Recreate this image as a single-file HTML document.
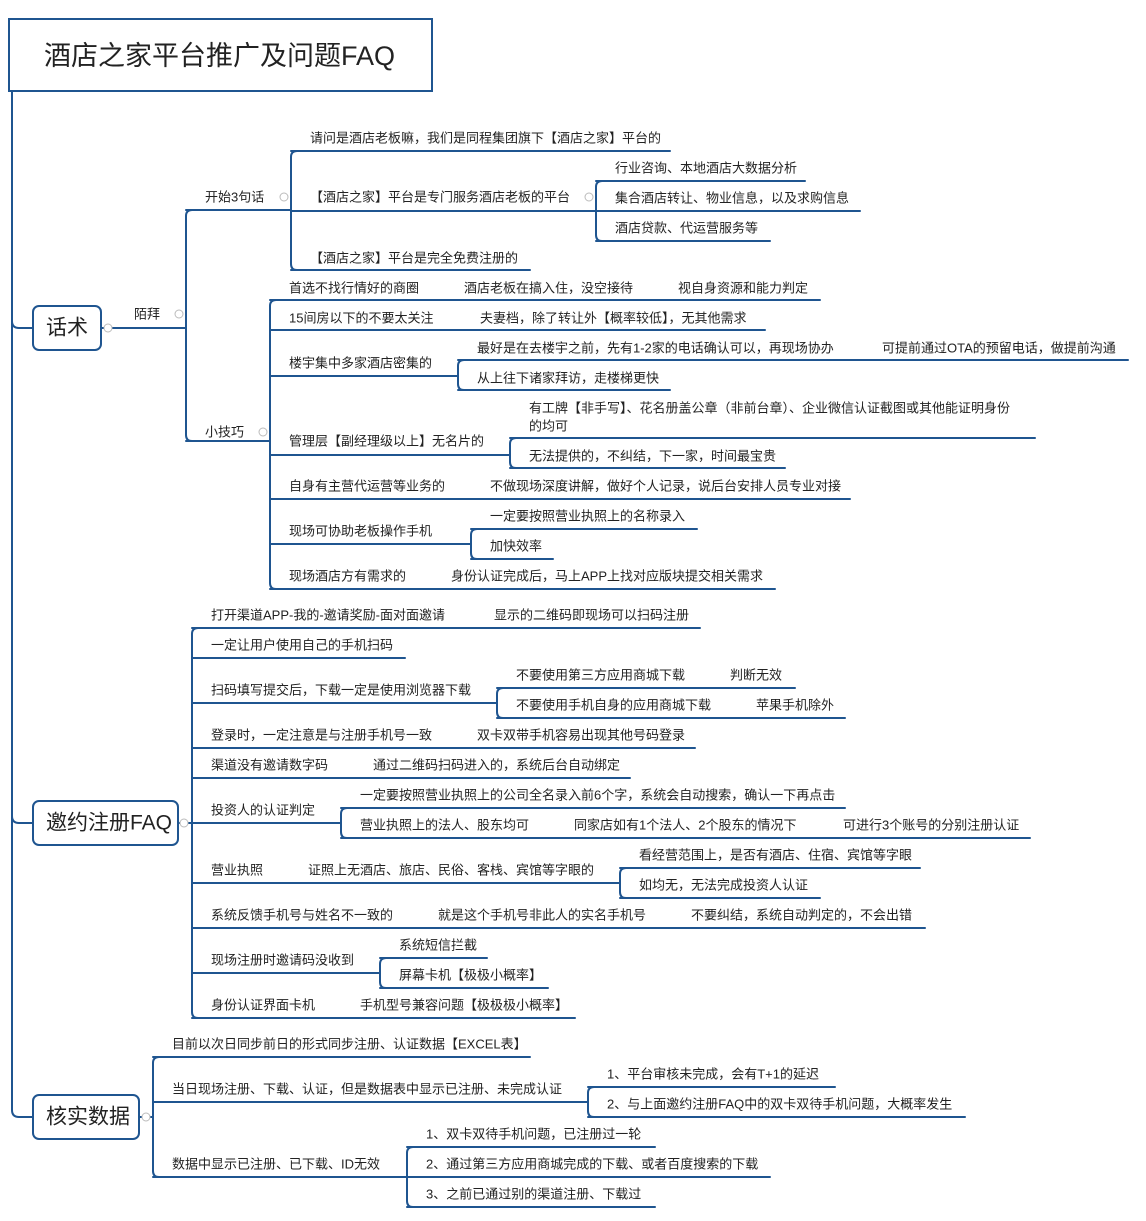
<!DOCTYPE html>
<html><head><meta charset="utf-8"><style>
html,body{margin:0;padding:0;background:#fff;}
svg{display:block;}
text{font-family:"Liberation Sans","Noto Sans CJK SC",sans-serif;font-size:13px;fill:#222;dominant-baseline:central;}
.b{font-size:21px;}
.t{font-size:27px;}
.c{fill:#fff;stroke:#bbb;stroke-width:1;}
</style></head><body>
<svg width="1146" height="1221" viewBox="0 0 1146 1221" xmlns="http://www.w3.org/2000/svg">
<g fill="none" stroke="#1f5590" stroke-width="2" stroke-linecap="round">
<!-- title -->
<rect x="9" y="19" width="423" height="72" stroke-width="2"/>
<!-- spine -->
<path d="M12 91 L12 1110 Q12 1117 19 1117 L33 1117"/>
<path d="M12 321 Q12 328 19 328 L33 328"/>
<path d="M12 816 Q12 823 19 823 L33 823"/>
<rect x="33" y="306" width="68" height="44" rx="6"/>
<rect x="33" y="801" width="145" height="44" rx="6"/>
<rect x="33" y="1095" width="106" height="44" rx="6"/>
<!-- 话术 -->
<path d="M101 328 L186 328"/>
<path d="M192 210 Q186 210 186 216 L186 435 Q186 441 192 441"/>
<path d="M186 210 L291 210"/><path d="M186 441 L270 441"/>
<path d="M297 151 Q291 151 291 157 L291 264 Q291 270 297 270"/>
<path d="M291 151 L670 151"/><path d="M291 211 L596 211"/><path d="M291 270 L530 270"/>
<path d="M602 181 Q596 181 596 187 L596 235 Q596 241 602 241"/>
<path d="M596 181 L805 181"/><path d="M596 211 L860 211"/><path d="M596 241 L770 241"/>
<path d="M276 300 Q270 300 270 306 L270 583 Q270 589 276 589"/>
<path d="M270 300 L820 300"/>
<path d="M270 330 L765 330"/>
<path d="M270 376 L458 376"/>
<path d="M464 360 Q458 360 458 366 L458 384 Q458 390 464 390"/>
<path d="M458 360 L1128 360"/><path d="M458 390 L670 390"/>
<path d="M270 455 L510 455"/>
<path d="M516 438 Q510 438 510 444 L510 462 Q510 468 516 468"/>
<path d="M510 438 L1035 438"/><path d="M510 468 L785 468"/>
<path d="M270 499 L850 499"/>
<path d="M270 544 L471 544"/>
<path d="M477 529 Q471 529 471 535 L471 553 Q471 559 477 559"/>
<path d="M471 529 L697 529"/><path d="M471 559 L553 559"/>
<path d="M270 589 L775 589"/>
<!-- 邀约 -->
<path d="M178 823 L192 823"/>
<path d="M198 628 Q192 628 192 634 L192 1012 Q192 1018 198 1018"/>
<path d="M192 628 L700 628"/>
<path d="M192 658 L405 658"/>
<path d="M192 703 L497 703"/>
<path d="M503 688 Q497 688 497 694 L497 712 Q497 718 503 718"/>
<path d="M497 688 L795 688"/><path d="M497 718 L845 718"/>
<path d="M192 748 L695 748"/>
<path d="M192 778 L630 778"/>
<path d="M192 823 L341 823"/>
<path d="M347 808 Q341 808 341 814 L341 832 Q341 838 347 838"/>
<path d="M341 808 L845 808"/><path d="M341 838 L1030 838"/>
<path d="M192 883 L620 883"/>
<path d="M626 868 Q620 868 620 874 L620 892 Q620 898 626 898"/>
<path d="M620 868 L920 868"/><path d="M620 898 L820 898"/>
<path d="M192 928 L925 928"/>
<path d="M192 973 L380 973"/>
<path d="M386 958 Q380 958 380 964 L380 982 Q380 988 386 988"/>
<path d="M380 958 L487 958"/><path d="M380 988 L548 988"/>
<path d="M192 1018 L575 1018"/>
<!-- 核实 -->
<path d="M139 1117 L153 1117"/>
<path d="M159 1057 Q153 1057 153 1063 L153 1171 Q153 1177 159 1177"/>
<path d="M153 1057 L530 1057"/>
<path d="M153 1102 L588 1102"/>
<path d="M594 1087 Q588 1087 588 1093 L588 1111 Q588 1117 594 1117"/>
<path d="M588 1087 L835 1087"/><path d="M588 1117 L965 1117"/>
<path d="M153 1177 L407 1177"/>
<path d="M413 1147 Q407 1147 407 1153 L407 1201 Q407 1207 413 1207"/>
<path d="M407 1147 L655 1147"/><path d="M407 1177 L770 1177"/><path d="M407 1207 L655 1207"/>
</g>
<g>
<circle class="c" cx="108" cy="328" r="4"/><circle class="c" cx="179" cy="314" r="4"/>
<circle class="c" cx="284" cy="197" r="4"/><circle class="c" cx="589" cy="197" r="4"/>
<circle class="c" cx="263" cy="432" r="4"/><circle class="c" cx="184" cy="823" r="4"/>
<circle class="c" cx="146" cy="1117" r="4"/>
</g>
<text class="t" x="44" y="56">酒店之家平台推广及问题FAQ</text>
<text class="b" x="46" y="328">话术</text>
<text class="b" x="46" y="823">邀约注册FAQ</text>
<text class="b" x="46" y="1117">核实数据</text>
<text x="134" y="314">陌拜</text>
<text x="205" y="197">开始3句话</text>
<text x="310" y="138">请问是酒店老板嘛，我们是同程集团旗下【酒店之家】平台的</text>
<text x="310" y="197">【酒店之家】平台是专门服务酒店老板的平台</text>
<text x="615" y="168">行业咨询、本地酒店大数据分析</text>
<text x="615" y="198">集合酒店转让、物业信息，以及求购信息</text>
<text x="615" y="228">酒店贷款、代运营服务等</text>
<text x="310" y="258">【酒店之家】平台是完全免费注册的</text>
<text x="205" y="432">小技巧</text>
<text x="289" y="288">首选不找行情好的商圈</text>
<text x="464" y="288">酒店老板在搞入住，没空接待</text>
<text x="678" y="288">视自身资源和能力判定</text>
<text x="289" y="318">15间房以下的不要太关注</text>
<text x="480" y="318">夫妻档，除了转让外【概率较低】，无其他需求</text>
<text x="289" y="363">楼宇集中多家酒店密集的</text>
<text x="477" y="348">最好是在去楼宇之前，先有1-2家的电话确认可以，再现场协办</text>
<text x="882" y="348">可提前通过OTA的预留电话，做提前沟通</text>
<text x="477" y="378">从上往下诸家拜访，走楼梯更快</text>
<text x="289" y="441">管理层【副经理级以上】无名片的</text>
<text x="529" y="408">有工牌【非手写】、花名册盖公章（非前台章）、企业微信认证截图或其他能证明身份</text>
<text x="529" y="426">的均可</text>
<text x="529" y="456">无法提供的，不纠结，下一家，时间最宝贵</text>
<text x="289" y="486">自身有主营代运营等业务的</text>
<text x="490" y="486">不做现场深度讲解，做好个人记录，说后台安排人员专业对接</text>
<text x="289" y="531">现场可协助老板操作手机</text>
<text x="490" y="516">一定要按照营业执照上的名称录入</text>
<text x="490" y="546">加快效率</text>
<text x="289" y="576">现场酒店方有需求的</text>
<text x="451" y="576">身份认证完成后，马上APP上找对应版块提交相关需求</text>
<text x="211" y="615">打开渠道APP-我的-邀请奖励-面对面邀请</text>
<text x="494" y="615">显示的二维码即现场可以扫码注册</text>
<text x="211" y="645">一定让用户使用自己的手机扫码</text>
<text x="211" y="690">扫码填写提交后，下载一定是使用浏览器下载</text>
<text x="516" y="675">不要使用第三方应用商城下载</text>
<text x="730" y="675">判断无效</text>
<text x="516" y="705">不要使用手机自身的应用商城下载</text>
<text x="756" y="705">苹果手机除外</text>
<text x="211" y="735">登录时，一定注意是与注册手机号一致</text>
<text x="477" y="735">双卡双带手机容易出现其他号码登录</text>
<text x="211" y="765">渠道没有邀请数字码</text>
<text x="373" y="765">通过二维码扫码进入的，系统后台自动绑定</text>
<text x="211" y="810">投资人的认证判定</text>
<text x="360" y="795">一定要按照营业执照上的公司全名录入前6个字，系统会自动搜索，确认一下再点击</text>
<text x="360" y="825">营业执照上的法人、股东均可</text>
<text x="574" y="825">同家店如有1个法人、2个股东的情况下</text>
<text x="843" y="825">可进行3个账号的分别注册认证</text>
<text x="211" y="870">营业执照</text>
<text x="308" y="870">证照上无酒店、旅店、民俗、客栈、宾馆等字眼的</text>
<text x="639" y="855">看经营范围上，是否有酒店、住宿、宾馆等字眼</text>
<text x="639" y="885">如均无，无法完成投资人认证</text>
<text x="211" y="915">系统反馈手机号与姓名不一致的</text>
<text x="438" y="915">就是这个手机号非此人的实名手机号</text>
<text x="691" y="915">不要纠结，系统自动判定的，不会出错</text>
<text x="211" y="960">现场注册时邀请码没收到</text>
<text x="399" y="945">系统短信拦截</text>
<text x="399" y="975">屏幕卡机【极极小概率】</text>
<text x="211" y="1005">身份认证界面卡机</text>
<text x="360" y="1005">手机型号兼容问题【极极极小概率】</text>
<text x="172" y="1044">目前以次日同步前日的形式同步注册、认证数据【EXCEL表】</text>
<text x="172" y="1089">当日现场注册、下载、认证，但是数据表中显示已注册、未完成认证</text>
<text x="607" y="1074">1、平台审核未完成，会有T+1的延迟</text>
<text x="607" y="1104">2、与上面邀约注册FAQ中的双卡双待手机问题，大概率发生</text>
<text x="172" y="1164">数据中显示已注册、已下载、ID无效</text>
<text x="426" y="1134">1、双卡双待手机问题，已注册过一轮</text>
<text x="426" y="1164">2、通过第三方应用商城完成的下载、或者百度搜索的下载</text>
<text x="426" y="1194">3、之前已通过别的渠道注册、下载过</text>
</svg>
</body></html>
